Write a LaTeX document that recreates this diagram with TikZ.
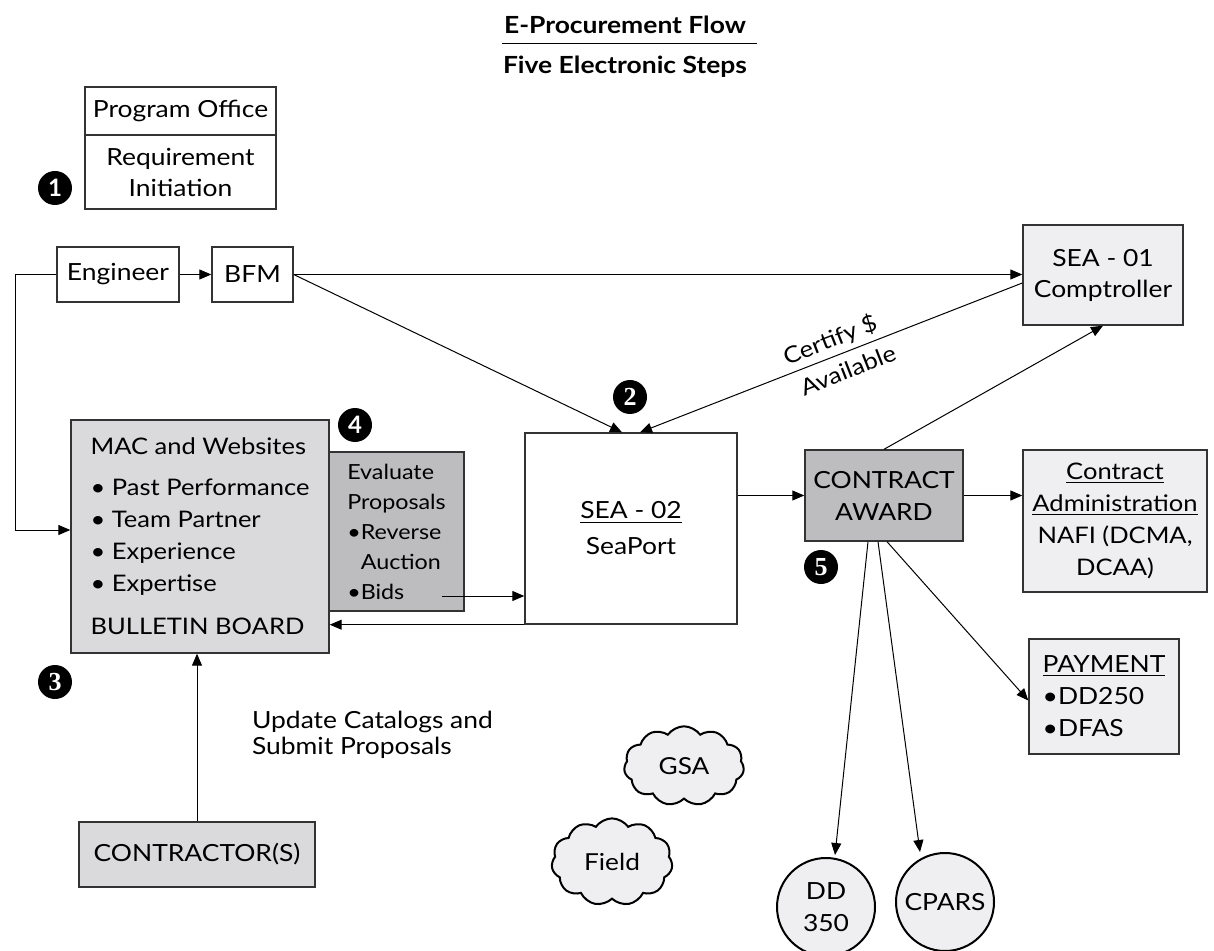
\documentclass[tikz,border=0pt]{standalone}
\usepackage{fontspec}
\setmainfont{Lato}[FakeStretch=1.12]
\newfontfamily\numserif{Liberation Serif}
\newfontfamily\numsans{Lato}
\usetikzlibrary{arrows.meta,shapes.symbols,calc}
\definecolor{lightfill}{HTML}{EFEEF0}
\definecolor{midfill}{HTML}{DAD9DB}
\definecolor{darkfill}{HTML}{BDBCBE}
\definecolor{edgecol}{HTML}{333333}
\begin{document}
\begin{tikzpicture}[x=0.5pt,y=-0.5pt,
  box/.style={draw=edgecol,line width=0.7pt,inner sep=0pt,align=center,font=\fontsize{11.8}{15.5}\selectfont},
  conn/.style={line width=0.5pt,-{Triangle[length=6pt,width=5pt]}},
  plainline/.style={line width=0.5pt},
  badge/.style={circle,fill=black,text=white,font=\numsans\bfseries\fontsize{12}{12}\selectfont,minimum size=17pt,inner sep=0pt},
  sbadge/.style={badge,font=\numserif\bfseries\fontsize{13}{13}\selectfont},
  cloudnode/.style={cloud,cloud puffs=11,cloud puff arc=110,draw=black,line width=1pt,fill=lightfill,inner sep=0pt,font=\fontsize{11.7}{15}\selectfont},
  roundnode/.style={circle,draw=black,line width=1pt,fill=lightfill,minimum size=49pt,inner sep=0pt,align=center,font=\fontsize{11.8}{16}\selectfont},
]
\path[use as bounding box] (0,0) rectangle (1214,951);

% title
\node[font=\bfseries\fontsize{11.8}{14}\selectfont] (t1) at (625,25) {E-Procurement Flow};
\node[font=\bfseries\fontsize{11.8}{14}\selectfont] (t2) at (625,67) {Five Electronic Steps};
\draw[plainline] (502,44) -- (757,44);

% program office
\node[box,minimum width=95.5pt,minimum height=24pt] (progA) at (180.5,111) {Program Office};
\node[box,minimum width=95.5pt,minimum height=37pt] (progB) at (180.5,172) {Requirement\\Initiation};

% engineer / bfm
\node[box,minimum width=61pt,minimum height=27.5pt] (eng) at (118,274.5) {Engineer};
\node[box,minimum width=40.5pt,minimum height=27.5pt] (bfm) at (252.5,274.5) {BFM};

% SEA-01
\node[box,fill=lightfill,minimum width=80pt,minimum height=50pt] (sea01) at (1103,275) {SEA - 01\\Comptroller};

% MAC
\node[box,fill=midfill,minimum width=129pt,minimum height=116.5pt,align=left,font=\fontsize{11.4}{16}\selectfont] (mac) at (200,536.5)
 {MAC and Websites\\[4.5pt]
  \textbullet\ Past Performance\\
  \textbullet\ Team Partner\\
  \textbullet\ Experience\\
  \textbullet\ Expertise\\[5.5pt]
  BULLETIN BOARD};

% Evaluate
\node[box,fill=darkfill,minimum width=67.5pt,minimum height=79.5pt,align=left,font=\fontsize{10.4}{15}\selectfont] (eval) at (396.5,531.5)
 {Evaluate\\Proposals\\\textbullet Reverse\\\phantom{\textbullet}Auction\\\textbullet Bids};

% SEA-02
\node[box,fill=white,minimum width=106pt,minimum height=95.5pt,font=\fontsize{11.8}{18}\selectfont] (sea02) at (631,528.5) {\underline{SEA - 02}\\SeaPort};

% contract award
\node[box,fill=darkfill,minimum width=79pt,minimum height=45.5pt,font=\fontsize{11.8}{16}\selectfont] (ca) at (884,495.5) {CONTRACT\\AWARD};

% contract administration
\node[box,fill=lightfill,minimum width=92pt,minimum height=71pt,font=\fontsize{11.4}{16}\selectfont] (cadmin) at (1115,521)
 {\underline{Contract}\\\underline{Administration}\\NAFI (DCMA,\\DCAA)};

% payment
\node[box,fill=lightfill,minimum width=75pt,minimum height=57.5pt,align=left,font=\fontsize{11.8}{16}\selectfont] (pay) at (1104,696.5)
 {\underline{PAYMENT}\\\textbullet DD250\\\textbullet DFAS};

% contractor
\node[box,fill=midfill,minimum width=118pt,minimum height=32.5pt] (contractor) at (197,854.5) {CONTRACTOR(S)};

\node[anchor=west,align=left,font=\fontsize{11.8}{12.8}\selectfont] (upd) at (245,735) {Update Catalogs and\\Submit Proposals};

% clouds and circles
\node[cloudnode,minimum width=60pt,minimum height=37.5pt] (gsa) at (684,766) {GSA};
\node[cloudnode,minimum width=60.5pt,minimum height=37.5pt] (field) at (612,862) {Field};
\node[roundnode] (dd350) at (826,907) {DD\\350};
\node[roundnode] (cpars) at (945,902) {CPARS};

% badges
\node[badge] (b1) at (55,188) {1};
\node[sbadge] (b2) at (630,397) {2};
\node[sbadge] (b3) at (55,682) {3};
\node[badge] (b4) at (355,425) {4};
\node[sbadge] (b5) at (821,567) {5};

% connectors
\coordinate (leftrail) at (15,274.5);
\draw[conn] (eng) -- (bfm);
\draw[conn] (bfm.east) -- (bfm.east -| sea01.west);
\draw[conn] (bfm.east) -- ($(sea02.north)+(-9,0)$);
\draw[conn] ($(sea01.west)+(0,8)$) -- ($(sea02.north)+(9,0)$);
\node[rotate=21.4,align=center,font=\fontsize{11.4}{17.5}\selectfont] (certify) at (836,355) {Certify \$\\\hspace*{0.5em}Available};
\draw[conn] (eng.west) -- (leftrail) |- ($(mac.west)+(0,-6.5)$);
\coordinate (bidsend) at (442,596);
\draw[conn] (bidsend) -- (bidsend -| sea02.west);
\draw[conn] (sea02.south west) -- (sea02.south west -| mac.east);
\draw[conn] (sea02.east |- ca.west) -- (ca.west);
\draw[conn] (ca.east) -- (ca.east -| cadmin.west);
\draw[conn] (ca.north) -- (sea01.south);
\draw[conn] (contractor.north) -- (contractor.north |- mac.south);
\draw[conn] ($(ca.south)+(-16,0)$) -- ($(dd350.north)+(9,-2)$);
\draw[conn] ($(ca.south)+(-6,0)$) -- ($(cpars.north)+(-25,0)$);
\draw[conn] ($(ca.south)+(3,0)$) -- ($(pay.west)+(0,4)$);
\end{tikzpicture}
\end{document}
